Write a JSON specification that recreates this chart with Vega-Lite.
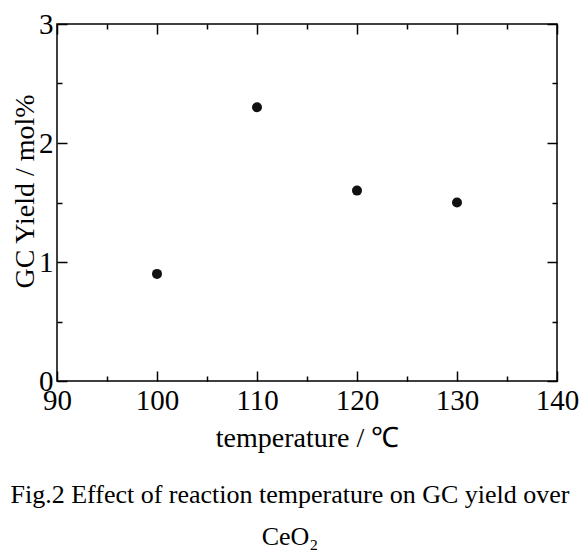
{
  "$schema": "https://vega.github.io/schema/vega-lite/v6.json",
  "width": 500,
  "height": 357,
  "autosize": {"type": "none"},
  "padding": {"left": 57, "top": 24, "right": 26, "bottom": 170},
  "background": "white",
  "config": {
    "view": {"stroke": "black", "strokeWidth": 1.5},
    "font": "Liberation Serif",
    "axis": {"grid": false, "domain": false, "tickColor": "black", "tickWidth": 1.5, "labelColor": "black", "titleColor": "black", "labelFont": "Liberation Serif", "titleFont": "Liberation Serif", "titleFontWeight": "normal"}
  },
  "title": {
    "text": ["Fig.2 Effect of reaction temperature on GC yield over", "CeO₂"],
    "orient": "bottom",
    "anchor": "middle",
    "frame": "group",
    "dx": -17,
    "offset": 30,
    "fontSize": 26,
    "fontWeight": "normal",
    "font": "Liberation Serif",
    "color": "black",
    "lineHeight": 42
  },
  "data": {"values": [
    {"temperature": 100, "yield": 0.9},
    {"temperature": 110, "yield": 2.3},
    {"temperature": 120, "yield": 1.6},
    {"temperature": 130, "yield": 1.5}
  ]},
  "resolve": {"axis": {"x": "independent", "y": "independent"}},
  "layer": [
    {
      "mark": {"type": "point", "filled": true, "color": "#111", "size": 100, "opacity": 1},
      "encoding": {
        "x": {"field": "temperature", "type": "quantitative", "scale": {"domain": [90, 140], "nice": false, "zero": false},
          "axis": {"orient": "bottom", "title": "temperature / ℃", "titleFontSize": 28, "labelFontSize": 29, "labelPadding": 15,
            "values": [90, 95, 100, 105, 110, 115, 120, 125, 130, 135, 140],
            "labelExpr": "datum.value % 10 === 0 ? format(datum.value, 'd') : ''",
            "tickSize": {"condition": {"test": "datum.value % 10 === 0", "value": -10}, "value": -5},
            "labelFlush": false, "labelOverlap": false, "titlePadding": 4}},
        "y": {"field": "yield", "type": "quantitative", "scale": {"domain": [0, 3], "nice": false},
          "axis": {"orient": "left", "title": "GC Yield / mol%", "titleFontSize": 28, "labelFontSize": 29, "labelPadding": 14,
            "values": [0, 0.5, 1, 1.5, 2, 2.5, 3],
            "labelExpr": "datum.value % 1 === 0 ? format(datum.value, 'd') : ''",
            "tickSize": {"condition": {"test": "datum.value % 1 === 0", "value": -10}, "value": -5},
            "labelFlush": false, "labelOverlap": false, "titleX": -24, "titleY": 167, "titleAngle": -90, "titleBaseline": "alphabetic", "titleAlign": "center"}}
      }
    },
    {
      "mark": {"type": "point", "filled": true, "opacity": 0},
      "encoding": {
        "x": {"field": "temperature", "type": "quantitative", "scale": {"domain": [90, 140], "nice": false, "zero": false},
          "axis": {"orient": "top", "title": null, "labels": false,
            "values": [90, 95, 100, 105, 110, 115, 120, 125, 130, 135, 140],
            "tickSize": {"condition": {"test": "datum.value % 10 === 0", "value": -10}, "value": -5}}},
        "y": {"field": "yield", "type": "quantitative", "scale": {"domain": [0, 3], "nice": false},
          "axis": {"orient": "right", "title": null, "labels": false,
            "values": [0, 0.5, 1, 1.5, 2, 2.5, 3],
            "tickSize": {"condition": {"test": "datum.value % 1 === 0", "value": -10}, "value": -5}}}
      }
    }
  ]
}
